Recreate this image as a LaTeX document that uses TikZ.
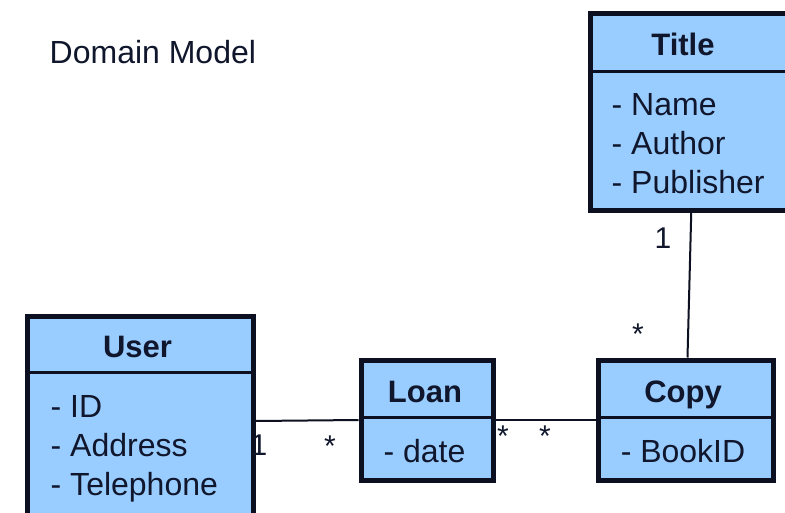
\documentclass[tikz,border=0pt]{standalone}
\usepackage{fontspec}
\setmainfont{Liberation Sans}
\definecolor{classfill}{HTML}{99CCFF}
\definecolor{classline}{HTML}{0D1020}
\definecolor{inktext}{HTML}{10162C}
\begin{document}
\begin{tikzpicture}[x=1pt,y=-1pt,
  every node/.style={inner sep=0pt, text=inktext, font=\fontsize{32}{36}\selectfont},
  classbox/.style={draw=classline, fill=classfill, line width=5pt, rectangle, anchor=north west},
  divider/.style={draw=classline, line width=3pt},
  assoc/.style={draw=classline, line width=2pt},
  header/.style={anchor=base, font=\fontsize{31}{36}\selectfont\bfseries},
  attr/.style={anchor=base west},
  cattr/.style={anchor=base},
  mult/.style={anchor=base, font=\fontsize{30}{36}\selectfont}]
  \clip (0,0) rectangle (785,512);
  \fill[white] (0,0) rectangle (785,512);

  % caption
  \node[attr] (caption) at (49.5,63) {Domain Model};

  % class boxes (outlines drawn on the centre line of the border)
  \node[classbox, minimum width=212.5pt, minimum height=197pt] (title) at (587.5,10.5) {};
  \node[classbox, minimum width=226pt, minimum height=210pt] (user) at (24.5,313.5) {};
  \node[classbox, minimum width=132pt, minimum height=120pt] (loan) at (358.5,357.5) {};
  \node[classbox, minimum width=175pt, minimum height=120pt] (copy) at (595.5,357.5) {};

  % compartment dividers
  \draw[divider] (587.5,71) -- (800,71);
  \draw[divider] (24.5,372) -- (250.5,372);
  \draw[divider] (358.5,417) -- (490.5,417);
  \draw[divider] (595.5,417) -- (770.5,417);

  % class names
  \node[header] (titlename) at (683,55) {Title};
  \node[header] (username) at (137.5,357) {User};
  \node[header] (loanname) at (425,402) {Loan};
  \node[header] (copyname) at (683,402) {Copy};

  % attributes
  \node[attr] (tname) at (611.5,115) {- Name};
  \node[attr] (tauthor) at (611.5,154) {- Author};
  \node[attr] (tpub) at (611.5,193) {- Publisher};
  \node[attr] (uid) at (50.5,417) {- ID};
  \node[attr] (uaddr) at (50.5,456) {- Address};
  \node[attr] (utel) at (50.5,495) {- Telephone};
  \node[cattr] (ldate) at (424.5,462) {- date};
  \node[cattr] (cbook) at (683,462) {- BookID};

  % associations
  \draw[assoc] (user.east) -- (loan.west);
  \draw[assoc] (loan.east) -- (copy.west);
  \draw[assoc] ([xshift=2pt]copy.north) -- ([xshift=-5pt]title.south);

  % multiplicities
  \node[mult] (m1) at (259,455) {1};
  \node[mult] (m2) at (330,456) {*};
  \node[mult] (m3) at (503,446) {*};
  \node[mult] (m4) at (545,446) {*};
  \node[mult] (m5) at (638,344) {*};
  \node[mult] (m6) at (663,248) {1};
\end{tikzpicture}
\end{document}
